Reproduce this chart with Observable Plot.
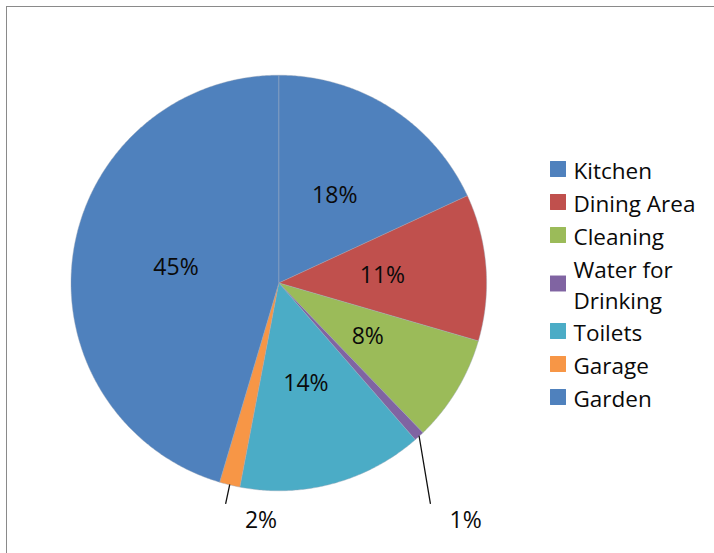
<!DOCTYPE html>
<html><head><meta charset="utf-8">
<script src="https://cdn.jsdelivr.net/npm/d3@7"></script>
<script src="https://cdn.jsdelivr.net/npm/@observablehq/plot@0.6"></script>
<style>
html,body{margin:0;padding:0;background:#fff;}
#wrap{position:relative;width:714px;height:553px;overflow:hidden;background:#fff;}
#frame{position:absolute;left:6px;top:6px;width:900px;height:900px;border-left:1.5px solid #8a8a8a;border-top:1.5px solid #8a8a8a;}
#chart{position:absolute;left:0;top:0;}
</style></head><body>
<div id="wrap"><div id="frame"></div><div id="chart"></div></div>
<script>
// ---- data ----
const categories = ["Kitchen", "Dining Area", "Cleaning", "Water for Drinking", "Toilets", "Garage", "Garden"];
const shares = [18.1, 11.4, 8.3, 0.8, 14.4, 1.6, 45.4];
const colors = ["#4F81BD", "#C0504D", "#9BBB59", "#8064A2", "#4BACC6", "#F79646", "#4F81BD"];

// ---- layout ----
const W = 714, H = 553, CX = 278.3, CY = 282.5, R = 207.8;
const FONT = "'Open Sans', sans-serif";
const toX = p => (p - CX) / R, toY = p => (CY - p) / R;

const total = d3.sum(shares);
let acc = 0;
const slices = categories.map((name, i) => {
  const a0 = acc / total * 2 * Math.PI; acc += shares[i];
  const a1 = acc / total * 2 * Math.PI;
  return {name, value: shares[i], a0, a1, mid: (a0 + a1) / 2, label: Math.round(shares[i] / total * 100) + "%"};
});
const pts = [];
for (const s of slices) {
  pts.push({name: s.name, x: 0, y: 0});
  const n = Math.max(2, Math.ceil((s.a1 - s.a0) / (Math.PI / 360)));
  for (let k = 0; k <= n; k++) {
    const a = s.a0 + (s.a1 - s.a0) * k / n;
    pts.push({name: s.name, x: Math.sin(a), y: Math.cos(a)});
  }
  pts.push({name: s.name, x: 0, y: 0});
}
const inside = slices.filter(s => s.value / total >= 0.03)
  .map(s => ({label: s.label, x: 0.5 * Math.sin(s.mid), y: 0.5 * Math.cos(s.mid)}));
const outsideSl = slices.filter(s => s.value / total < 0.03);
const leaders = [];
const outside = [];
for (const s of outsideSl) {
  const rx = Math.sin(s.mid), ry = Math.cos(s.mid);
  const ex = rx * 1.08, ey = -1.06;
  leaders.push({name: s.name, x: rx, y: ry}, {name: s.name, x: ex, y: ey});
  outside.push({label: s.label, x: ex + 0.17, y: -1.145});
}
// legend
function wrap(t, max) {
  const words = t.split(" "); const lines = []; let cur = "";
  for (const w of words) { if (cur && (cur + " " + w).length > max) { lines.push(cur); cur = w; } else cur = cur ? cur + " " + w : w; }
  lines.push(cur); return lines;
}
const legend = [];
let ly = 168.5;
categories.forEach((name, i) => {
  const lines = wrap(name, 12);
  const c = ly + (lines.length - 1) * 31 / 2;
  legend.push({name, text: lines.join("\n"), x: toX(557.5), tx: toX(573), y: toY(c)});
  ly += 33 + (lines.length - 1) * 30;
});

const chart = Plot.plot({
  width: W, height: H, margin: 0,
  x: {domain: [toX(0), toX(W)], axis: null},
  y: {domain: [toY(H), toY(0)], axis: null},
  color: {domain: categories, range: colors},
  style: {fontFamily: FONT, background: "transparent"},
  marks: [
    Plot.line(pts, {x: "x", y: "y", z: "name", fill: "name", stroke: "#9aa7b8", strokeWidth: 0.6, strokeOpacity: 0.7, curve: "linear"}),
    Plot.text(inside, {x: "x", y: "y", text: "label", fontSize: 23, fill: "#0a0a0a"}),
    Plot.line(leaders, {x: "x", y: "y", z: "name", stroke: "#111", strokeWidth: 1.3}),
    Plot.text(outside, {x: "x", y: "y", text: "label", fontSize: 23, fill: "#0a0a0a"}),
    Plot.dot(legend, {x: "x", y: "y", symbol: "square", r: 9, fill: "name", stroke: "none"}),
    Plot.text(legend, {x: "tx", y: "y", text: "text", textAnchor: "start", fontSize: 22.5, fill: "#0a0a0a", lineHeight: 1.38})
  ]
});
document.getElementById("chart").appendChild(chart);
</script>
</body></html>
